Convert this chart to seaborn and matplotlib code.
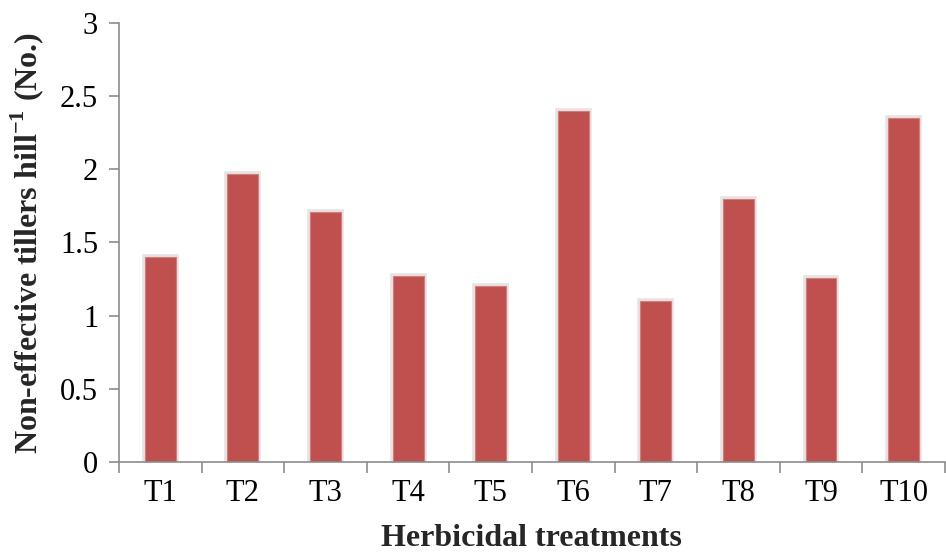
import matplotlib
matplotlib.use("Agg")
import matplotlib.pyplot as plt
import matplotlib.patheffects as pe
from matplotlib.ticker import FixedLocator
import numpy as np
import pandas as pd
import seaborn as sns

treatments = ["T1", "T2", "T3", "T4", "T5", "T6", "T7", "T8", "T9", "T10"]
tillers = [1.40, 1.97, 1.71, 1.27, 1.20, 2.40, 1.10, 1.80, 1.26, 2.35]

df = pd.DataFrame({"treatment": treatments, "tillers": tillers})

sns.set_theme(style="white")
plt.rcParams["font.family"] = ["Liberation Serif", "DejaVu Serif"]
plt.rcParams["mathtext.fontset"] = "custom"
plt.rcParams["mathtext.rm"] = "Liberation Serif:bold"
plt.rcParams["mathtext.bf"] = "Liberation Serif:bold"

fig = plt.figure(figsize=(9.46, 5.57), dpi=100)
ax = fig.add_axes([0.1258, 0.1706, 0.873, 0.7881])

sns.barplot(data=df, x="treatment", y="tillers", color="#C0504D",
            saturation=1, width=0.375, ax=ax, edgecolor="#D67B78", linewidth=0.8)

for bar in ax.patches:
    bar.set_path_effects([pe.Stroke(linewidth=4, foreground="#E4E4E4"), pe.Normal()])

ax.set_ylim(0, 3)
ax.set_xlim(-0.5, len(treatments) - 0.5)
ax.set_yticks(np.arange(0, 3.01, 0.5))
ax.set_yticklabels(["0", "0.5", "1", "1.5", "2", "2.5", "3"])

ax.xaxis.set_minor_locator(FixedLocator(np.arange(-0.5, len(treatments), 1.0)))
ax.tick_params(axis="x", which="major", length=0, pad=12, labelsize=22, colors="black")
ax.tick_params(axis="x", which="minor", length=8, width=1.2, color="#8C8C8C", direction="out", bottom=True)
ax.tick_params(axis="y", which="major", length=7, width=1.2, color="#8C8C8C", direction="out",
               left=True, labelsize=22, pad=8, labelcolor="black")

for side in ["top", "right"]:
    ax.spines[side].set_visible(False)
for side in ["left", "bottom"]:
    ax.spines[side].set_color("#8C8C8C")
    ax.spines[side].set_linewidth(1.2)

ax.set_xlabel("Herbicidal treatments", fontsize=23, fontweight="bold", labelpad=12)
ax.set_ylabel("Non-effective tillers hill$^{\\mathrm{-1}}$ (No.)", fontsize=23,
              fontweight="bold", labelpad=10)

fig.savefig("out.png", dpi=100, facecolor="white")
